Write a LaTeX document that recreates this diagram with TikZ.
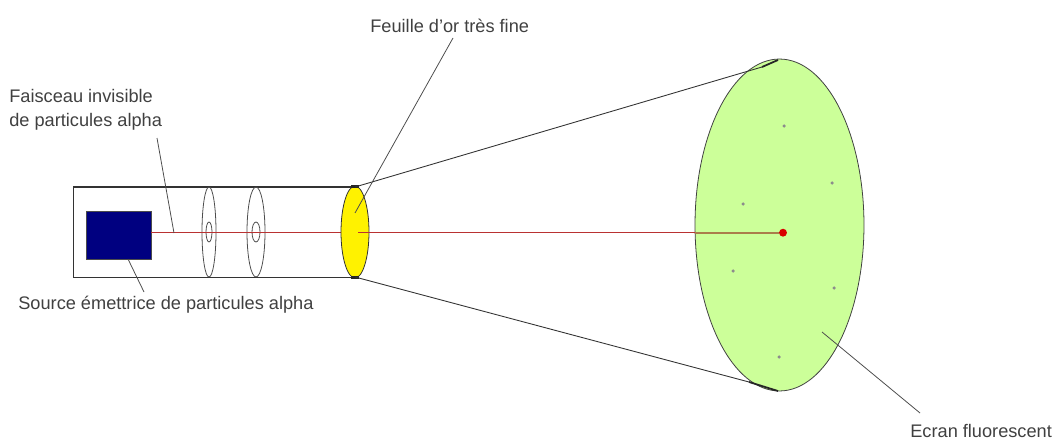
\documentclass[tikz,border=0pt]{standalone}
\usepackage{fontspec}
\setmainfont{Liberation Sans}
\usetikzlibrary{shapes.geometric}
\definecolor{beamred}{RGB}{185,50,50}
\definecolor{beamtan}{RGB}{170,125,75}
\definecolor{screengreen}{RGB}{204,255,153}
\definecolor{sourceblue}{RGB}{0,0,128}
\tikzset{
  caption/.style={text=black!75, font=\fontsize{10.35pt}{13.7pt}\selectfont, inner sep=0pt, align=left},
  leader/.style={black!70, line width=0.45pt},
  edge/.style={black!80, line width=0.5pt},
  beam/.style={draw=beamred, line width=0.55pt},
  lens/.style={ellipse, draw=black!70, line width=0.45pt, inner sep=0pt},
  spot/.style={circle, fill=black!45, inner sep=0pt, minimum size=2pt},
}
\begin{document}
\begin{tikzpicture}[x=0.02cm,y=-0.02cm]
  \useasboundingbox (0,0) rectangle (1058,439);

  % tube
  \coordinate (tubeTL) at (73,187);
  \coordinate (tubeTR) at (355,187);
  \coordinate (tubeBL) at (73,277);
  \coordinate (tubeBR) at (355,277);
  \draw[edge] (tubeTL) -- (tubeBL) -- (tubeBR);
  \draw[edge, line width=1pt] (tubeTL) -- (tubeTR);

  % source
  \node[draw=black!70, fill=sourceblue, minimum width=1.3cm, minimum height=0.96cm, inner sep=0pt] (source) at (118.5,235) {};

  % diaphragms: x/half width/hole half width
  \foreach \x/\w/\h in {209/7/3,256/9/4}{
    \node[lens, minimum width={2*\w*0.02cm}, minimum height=1.8cm] (lens\x) at (\x,232) {};
    \node[lens, minimum width={2*\h*0.02cm}, minimum height=0.4cm] (hole\x) at (\x,232) {};
  }

  % beam through the tube
  \coordinate (beamA) at (151,232.7);
  \coordinate (beamB) at (345,232.7);
  \draw[beam] (beamA) -- (beamB);

  % gold foil
  \node[lens, draw=black!80, fill=yellow, minimum width=0.56cm, minimum height=1.84cm] (foil) at (355,232) {};
  \draw[line width=1.3pt, black!85] (351,186.5) -- (359,186.5);
  \draw[line width=1.3pt, black!85] (351,277.5) -- (359,277.5);

  % screen
  \node[lens, draw=black!75, fill=screengreen, minimum width=3.38cm, minimum height=6.64cm] (screen) at (779.5,225) {};

  % cone
  \coordinate (coneT) at (762,67);
  \coordinate (coneTb) at (778,60);
  \coordinate (coneB) at (749,382);
  \coordinate (coneBb) at (778,391);
  \draw[edge] (tubeTR) -- (coneT);
  \draw[edge] (tubeBR) -- (coneB);
  \draw[black!85, line width=1pt] (coneT) -- (coneTb);
  \draw[black!85, line width=1pt] (coneB) -- (coneBb);

  % beam to the screen
  \node[circle, fill=red!85!black, inner sep=0pt, minimum size=4.5pt] (impact) at (783,232.7) {};
  \coordinate (beamC) at (358,232.7);
  \coordinate (beamD) at (695,232.7);
  \draw[beam] (beamC) -- (beamD);
  \draw[draw=beamtan, line width=1.1pt] (beamD) -- (impact);

  % scattered impacts
  \foreach \x/\y in {784/126,832/183,743/204,733/271,834/288,779/357}{
    \node[spot] (spot\x) at (\x,\y) {};
  }

  % captions
  \node[caption, anchor=west] (foilText) at (370,26) {Feuille d'or très fine};
  \node[caption, anchor=west] (beamText) at (9,110) {Faisceau invisible\\de particules alpha};
  \node[caption, anchor=west] (sourceText) at (18,305) {Source émettrice de particules alpha};
  \node[caption, anchor=west] (screenText) at (910,431) {Ecran fluorescent};

  % leaders
  \coordinate (foilA) at (453,38);
  \coordinate (foilB) at (355,213);
  \coordinate (beamTextA) at (157,138);
  \coordinate (beamTextB) at (174,233);
  \coordinate (sourceA) at (128,259);
  \coordinate (sourceB) at (144,292);
  \coordinate (screenA) at (822,332);
  \coordinate (screenB) at (920,413);
  \draw[leader] (foilA) -- (foilB);
  \draw[leader] (beamTextA) -- (beamTextB);
  \draw[leader] (sourceA) -- (sourceB);
  \draw[leader] (screenA) -- (screenB);
\end{tikzpicture}
\end{document}
